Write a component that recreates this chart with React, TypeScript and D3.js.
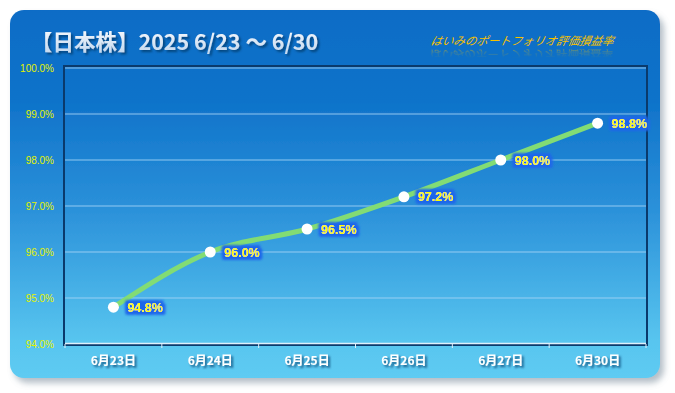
import React from "react";
import * as d3 from "d3";

const categories = ["6月23日", "6月24日", "6月25日", "6月26日", "6月27日", "6月30日"];
const values = [94.8, 96.0, 96.5, 97.2, 98.0, 98.8];
const yTicks = [94, 95, 96, 97, 98, 99, 100];
const titleText = "【日本株】2025 6/23 〜 6/30";
const subtitleText = "はいみのポートフォリオ評価損益率";

export default function App() {
  const W = 675, H = 393;
  const left = 65, right = 646, top = 67, bottom = 344;
  const x = d3.scaleBand<string>().domain(categories).range([left, right]).padding(0);
  const y = d3.scaleLinear().domain([94, 100]).range([bottom, top + 1]);
  const pts: [number, number][] = values.map((v, i) => [x(categories[i])! + x.bandwidth() / 2, y(v)]);
  const line = d3.line<[number, number]>().x(d => d[0]).y(d => d[1]).curve(d3.curveMonotoneX);
  const boundaries = d3.range(categories.length + 1).map(i => left + i * x.bandwidth());
  const fmt = (v: number) => v.toFixed(1) + "%";
  return (
    <svg width={W} height={H} style={{ position: "absolute", left: 0, top: 0 }}>
      <defs>
        <linearGradient id="bg" x1="0" y1="0" x2="0" y2="1">
          <stop offset="0" stopColor="#0a6cc6" />
          <stop offset="0.25" stopColor="#0f73ca" />
          <stop offset="0.55" stopColor="#2c92da" />
          <stop offset="0.9" stopColor="#58c5ef" />
          <stop offset="1" stopColor="#5ecbf2" />
        </linearGradient>
        <linearGradient id="tg" x1="0" y1="0" x2="0" y2="1">
          <stop offset="0" stopColor="#ffffff" />
          <stop offset="1" stopColor="#bcd4ee" />
        </linearGradient>
        <linearGradient id="rg" x1="0" y1="0" x2="0" y2="1">
          <stop offset="0" stopColor="#ffffff" stopOpacity="0.45" />
          <stop offset="1" stopColor="#ffffff" stopOpacity="0" />
        </linearGradient>
        <mask id="rm">
          <rect x="420" y="48" width="220" height="10" fill="url(#rg)" />
        </mask>
        <filter id="rblur">
          <feGaussianBlur stdDeviation="0.5" />
        </filter>
        <filter id="shadow" x="-5%" y="-5%" width="115%" height="115%">
          <feGaussianBlur in="SourceAlpha" stdDeviation="3" />
          <feOffset dx="4" dy="5" result="b" />
          <feFlood floodColor="#6b7f90" floodOpacity="0.5" />
          <feComposite in2="b" operator="in" />
          <feMerge>
            <feMergeNode />
            <feMergeNode in="SourceGraphic" />
          </feMerge>
        </filter>
        <filter id="tshadow" x="-10%" y="-30%" width="120%" height="160%">
          <feGaussianBlur in="SourceAlpha" stdDeviation="1.2" />
          <feOffset dx="1.5" dy="1.5" result="b" />
          <feFlood floodColor="#063a6a" floodOpacity="0.8" />
          <feComposite in2="b" operator="in" />
          <feMerge>
            <feMergeNode />
            <feMergeNode in="SourceGraphic" />
          </feMerge>
        </filter>
        <filter id="glow" x="-20%" y="-40%" width="140%" height="180%">
          <feMorphology in="SourceAlpha" operator="dilate" radius="2.5" />
          <feGaussianBlur stdDeviation="0.8" result="d" />
          <feFlood floodColor="#1e66ea" floodOpacity="1" />
          <feComposite in2="d" operator="in" />
          <feMerge>
            <feMergeNode />
            <feMergeNode in="SourceGraphic" />
          </feMerge>
        </filter>
      </defs>
      <rect x={10} y={10} width={650} height={368} rx={14} fill="url(#bg)" filter="url(#shadow)" />
      <text x={31} y={50} fontFamily="'Noto Sans CJK JP'" fontWeight="bold" fontSize={21.5} fill="url(#tg)" filter="url(#tshadow)">
        {titleText}
      </text>
      <g mask="url(#rm)">
        <text x={430} y={45} fontFamily="'Noto Sans CJK JP'" fontStyle="italic" fontSize={11.5} fill="#f6c000" filter="url(#rblur)" transform="translate(0,95) scale(1,-1) skewX(12) translate(-9.5,0)" textLength={183}>
          {subtitleText}
        </text>
      </g>
      <text x={430} y={45} fontFamily="'Noto Sans CJK JP'" fontStyle="italic" fontSize={11.5} fill="#f6c000" transform="skewX(-12) translate(9.5,0)" textLength={183}>
        {subtitleText}
      </text>
      {yTicks.map(t => (
        <g key={t}>
          <line x1={left} x2={right} y1={y(t)} y2={y(t)} stroke="#a6d4f6" strokeWidth={1} opacity={0.85} />
          <text x={54} y={y(t) + 3.5} textAnchor="end" fontFamily="'Liberation Sans'" fontSize={10} fill="#e4f200">
            {fmt(t)}
          </text>
        </g>
      ))}
      <rect x={left - 1} y={top - 1} width={right - left + 2} height={bottom - top + 2} fill="none" stroke="#0a3a6c" strokeWidth={2} />
      <line x1={left} x2={right} y1={bottom - 0.5} y2={bottom - 0.5} stroke="#dff0fb" strokeWidth={1.5} />
      {boundaries.map((b, i) => (
        <line key={i} x1={b} x2={b} y1={bottom} y2={bottom + 4} stroke="#dff0fb" strokeWidth={1} />
      ))}
      {categories.map(c => (
        <text key={c} x={x(c)! + x.bandwidth() / 2} y={365} textAnchor="middle" fontFamily="'Noto Sans CJK JP'" fontWeight="bold" fontSize={12} fill="#ffffff" filter="url(#tshadow)">
          {c}
        </text>
      ))}
      <path d={line(pts)!} fill="none" stroke="#82dc74" strokeWidth={5} strokeLinecap="round" />
      {pts.map((p, i) => (
        <circle key={i} cx={p[0]} cy={p[1]} r={5.5} fill="#ffffff" />
      ))}
      {pts.map((p, i) => (
        <text key={"l" + i} x={p[0] + 14} y={p[1] + 4.5} fontFamily="'Liberation Sans'" fontWeight="bold" fontSize={12.5} fill="#ffff00" filter="url(#glow)">
          {fmt(values[i])}
        </text>
      ))}
    </svg>
  );
}
